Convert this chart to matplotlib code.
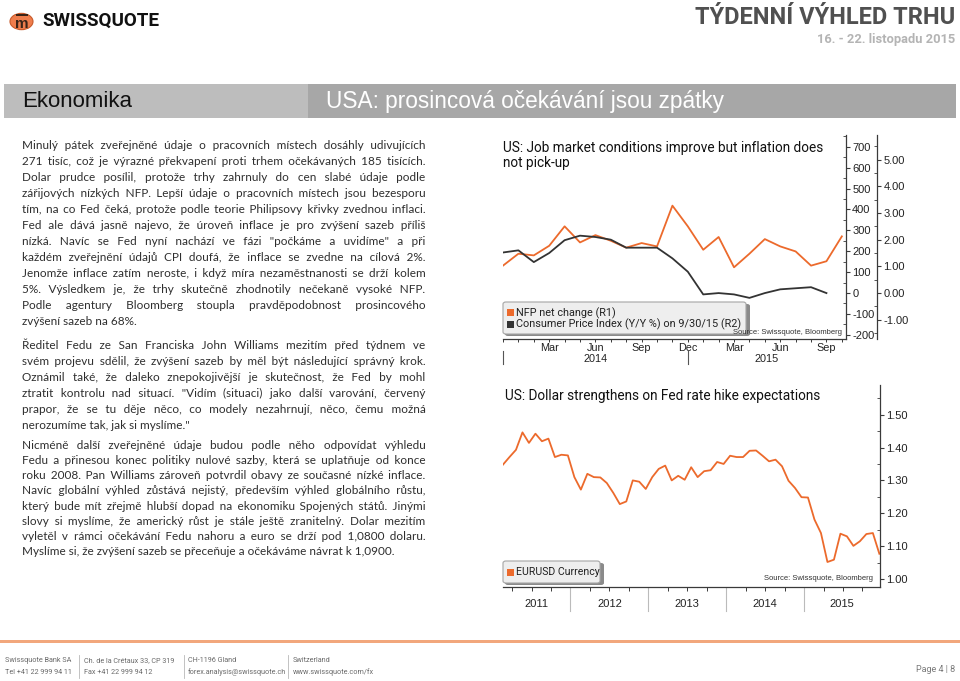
import numpy as np
import matplotlib
matplotlib.use("Agg")
import matplotlib.pyplot as plt
from matplotlib.patches import Circle, Rectangle, FancyBboxPatch
from matplotlib.lines import Line2D
import matplotlib.transforms as mtrans
from matplotlib.ticker import MultipleLocator, FixedLocator

W, H = 960, 681

# ---------------- data ----------------
nfp = [131, 188, 180, 226, 319, 242, 277, 250, 217, 239, 223, 418,
       319, 207, 268, 123, 188, 258, 223, 199, 131, 152, 271]
cpi = [1.52, 1.60, 1.16, 1.50, 1.98, 2.15, 2.10, 2.00, 1.70, 1.70, 1.70,
       1.30, 0.80, -0.05, 0.00, -0.05, -0.18, 0.00, 0.14, 0.18, 0.22, 0.00]
month_ticks = [3, 6, 9, 12, 15, 18, 21]
month_labels = ["Mar", "Jun", "Sep", "Dec", "Mar", "Jun", "Sep"]
years1 = ["2014", "2015"]
r1_ticks = [-200, -100, 0, 100, 200, 300, 400, 500, 600, 700]
r2_ticks = [-1, 0, 1, 2, 3, 4, 5]

eurusd = [1.348, 1.371, 1.393, 1.446, 1.414, 1.442, 1.419, 1.427, 1.371, 1.378,
          1.376, 1.310, 1.272, 1.320, 1.310, 1.309, 1.292, 1.262, 1.228, 1.236,
          1.300, 1.296, 1.274, 1.310, 1.335, 1.345, 1.300, 1.314, 1.302, 1.340,
          1.310, 1.328, 1.331, 1.356, 1.350, 1.375, 1.371, 1.371, 1.390, 1.391,
          1.375, 1.358, 1.363, 1.343, 1.299, 1.277, 1.249, 1.248, 1.181, 1.140,
          1.052, 1.059, 1.138, 1.130, 1.101, 1.115, 1.137, 1.140, 1.077]
eur_start = 1.6   # months since 1 Jan 2011 of first observation
years2 = ["2011", "2012", "2013", "2014", "2015"]
eur_ticks = [1.0, 1.1, 1.2, 1.3, 1.4, 1.5]

para1 = [
    "Minulý pátek zveřejněné údaje o pracovních místech dosáhly udivujících",
    "271 tisíc, což je výrazné překvapení proti trhem očekávaných 185 tisících.",
    "Dolar prudce posílil, protože trhy zahrnuly do cen slabé údaje  podle",
    "zářijových nízkých NFP. Lepší údaje o pracovních místech jsou bezesporu",
    "tím, na co Fed čeká, protože podle teorie Philipsovy křivky zvednou inflaci.",
    "Fed ale dává jasně najevo, že úroveň inflace je pro zvýšení sazeb příliš",
    "nízká. Navíc se Fed nyní nachází ve fázi \"počkáme a uvidíme\" a při",
    "každém zveřejnění údajů CPI doufá, že inflace se zvedne na cílová 2%.",
    "Jenomže inflace zatím neroste, i když míra nezaměstnanosti se drží kolem",
    "5%. Výsledkem je, že trhy skutečně zhodnotily nečekaně vysoké NFP.",
    "Podle agentury Bloomberg stoupla pravděpodobnost prosincového",
    "zvýšení sazeb na 68%.",
]
para2 = [
    "Ředitel Fedu ze San Franciska John Williams mezitím před týdnem ve",
    "svém projevu sdělil, že zvýšení sazeb by měl být následující správný krok.",
    "Oznámil také, že daleko znepokojivější je skutečnost, že Fed by mohl",
    "ztratit kontrolu nad situací. \"Vidím (situaci) jako další varování, červený",
    "prapor, že se tu děje něco, co modely nezahrnují, něco, čemu možná",
    "nerozumíme tak, jak si myslíme.\"",
]
para3 = [
    "Nicméně další zveřejněné údaje budou podle něho odpovídat výhledu",
    "Fedu a přinesou konec politiky nulové sazby, která se uplatňuje od konce",
    "roku 2008. Pan Williams zároveň potvrdil obavy ze současné nízké inflace.",
    "Navíc globální výhled zůstává nejistý, především výhled globálního růstu,",
    "který bude mít zřejmě hlubší dopad na ekonomiku Spojených států. Jinými",
    "slovy si myslíme, že americký růst je stále ještě zranitelný.  Dolar mezitím",
    "vyletěl v rámci očekávání Fedu nahoru a euro se drží pod 1,0800 dolaru.",
    "Myslíme si, že zvýšení sazeb se přeceňuje a očekáváme návrat k 1,0900.",
]

# ---------------- styles ----------------
ORANGE = "#ec6a2c"
DARK = "#333333"
AXC = "#3a3a3a"
NARROW = ["Roboto", "DejaVu Sans"]
SANS = ["Liberation Sans", "DejaVu Sans"]
BODY = ["Lato", "DejaVu Sans"]

fig = plt.figure(figsize=(W / 100, H / 100), dpi=100)
fig.patch.set_facecolor("white")


def fx(x):
    return x / W


def fy(y):
    return 1 - y / H


def add_axes_px(x0, y0, x1, y1):
    return fig.add_axes([fx(x0), fy(y1), (x1 - x0) / W, (y1 - y0) / H])


# ---------------- header ----------------
fig.patches.append(Circle((fx(21.5), fy(21.5)), 11.5 / W, transform=fig.transFigure,
                          facecolor="#ef7d4c", edgecolor="#c85a2a", lw=0.8))
fig.patches.append(Rectangle((fx(15.5), fy(15.8)), 12 / W, 1.6 / H, transform=fig.transFigure,
                             facecolor="#3b2417", edgecolor="none", zorder=3))
fig.text(fx(21.5), fy(23.5), "m", fontsize=11, fontweight="bold", color="#3b2417",
         ha="center", va="center", family=SANS)
fig.text(fx(42), fy(21), "SWISSQUOTE", fontsize=13.6, fontweight="bold", color="#111111",
         ha="left", va="center", family=NARROW)
fig.text(fx(955), fy(17), "TÝDENNÍ VÝHLED TRHU", fontsize=17, fontweight="bold",
         color="#505050", ha="right", va="center", family=NARROW)
fig.text(fx(955), fy(39), "16. - 22. listopadu 2015", fontsize=9.3, fontweight="bold",
         color="#b4b4b4", ha="right", va="center", family=NARROW)

fig.patches.append(Rectangle((fx(4), fy(118)), (308 - 4) / W, 34 / H, transform=fig.transFigure,
                             facecolor="#bdbdbd", edgecolor="none"))
fig.patches.append(Rectangle((fx(308), fy(118)), (956 - 308) / W, 34 / H, transform=fig.transFigure,
                             facecolor="#a7a7a7", edgecolor="none"))
fig.text(fx(22), fy(101.5), "Ekonomika", fontsize=16, color="#111111",
         ha="left", va="center", family=SANS)
fig.text(fx(326), fy(101.5), "USA: prosincová očekávání jsou zpátky", fontsize=16.3,
         color="white", ha="left", va="center", family=SANS)

# ---------------- body text (justified, one text per line) ----------------
renderer = fig.canvas.get_renderer()
BODY_KW = dict(fontsize=8.5, color="#2e2e2e", family=BODY, va="baseline", ha="left")
X0, X1 = 22.5, 426
BASE_OFF = 3.8
HAIR = "\u200a"


def text_width(s):
    t = fig.text(0, 0, s, **BODY_KW)
    w = t.get_window_extent(renderer).width
    t.remove()
    return w


hair_w = text_width("a" + HAIR * 10 + "a") - text_width("aa")
hair_w = hair_w / 10.0


def justify(line):
    words = line.split()
    if len(words) < 2 or hair_w <= 0.05:
        return " ".join(words)
    base = " ".join(words)
    extra = (X1 - X0) - text_width(base)
    n = len(words) - 1
    out = words[0]
    prev = 0
    for k in range(1, n + 1):
        cum = int(round(max(extra, 0) * k / n / hair_w))
        cnt = cum - prev
        prev = cum
        out += " " + HAIR * cnt + words[k]
    return out


def draw_para(lines, y0, dy):
    for i, line in enumerate(lines):
        y = y0 + i * dy + BASE_OFF
        last = (i == len(lines) - 1)
        s = " ".join(line.split()) if last else justify(line)
        fig.text(fx(X0), fy(y), s, **BODY_KW)


draw_para(para1, 145, 16.05)
draw_para(para2, 345, 16.0)
draw_para(para3, 445, 15.2)

# ---------------- chart 1 ----------------
fig.text(fx(503), fy(148), "US: Job market conditions improve but inflation does",
         fontsize=9.8, color="#111111", family=NARROW, va="center", ha="left")
fig.text(fx(503), fy(163.5), "not pick-up", fontsize=9.8, color="#111111",
         family=NARROW, va="center", ha="left")

ax1 = add_axes_px(503, 135, 846, 339)
ax2 = ax1.twinx()
ax1.set_facecolor("none")
ax2.set_facecolor("none")
x1 = np.arange(len(nfp))
ax1.plot(x1, nfp, color=ORANGE, lw=1.3, zorder=3)
ax1.set_xlim(0, 22.27)
ax1.set_ylim(-220, 756)
for s in ["left", "top"]:
    ax1.spines[s].set_visible(False)
for s in ["right", "bottom"]:
    ax1.spines[s].set_color(AXC)
    ax1.spines[s].set_linewidth(0.9)
ax1.yaxis.tick_right()
ax1.set_yticks(r1_ticks)
ax1.set_yticklabels([str(v) for v in r1_ticks])
ax1.yaxis.set_minor_locator(MultipleLocator(50))
ax1.tick_params(axis="y", which="major", direction="out", length=3, width=0.8,
                colors=AXC, labelsize=8, pad=1.5, left=False, labelleft=False,
                right=True, labelright=True)
ax1.tick_params(axis="y", which="minor", direction="in", length=2, width=0.6, colors=AXC,
                left=False, right=True)
for lab in ax1.get_yticklabels():
    lab.set_family(SANS)
    lab.set_color("#222222")
ax1.set_xticks(month_ticks)
ax1.set_xticklabels(month_labels)
ax1.xaxis.set_minor_locator(MultipleLocator(1))
ax1.tick_params(axis="x", which="both", direction="out", length=2.5, width=0.7,
                colors=AXC, labelsize=7.8, pad=0.5)
for lab in ax1.get_xticklabels():
    lab.set_family(SANS)
    lab.set_color("#222222")

x2 = np.arange(len(cpi))
ax2.plot(x2, cpi, color=DARK, lw=1.3, zorder=3)
ax2.set_ylim(-1.72, 5.92)
for s in ["left", "top", "bottom"]:
    ax2.spines[s].set_visible(False)
ax2.spines["right"].set_position(("axes", (877 - 503) / (846 - 503)))
ax2.spines["right"].set_color(AXC)
ax2.spines["right"].set_linewidth(0.9)
ax2.set_yticks(r2_ticks)
ax2.set_yticklabels(["%.2f" % v for v in r2_ticks])
ax2.yaxis.set_minor_locator(MultipleLocator(0.5))
ax2.tick_params(axis="y", which="major", direction="out", length=3, width=0.8,
                colors=AXC, labelsize=8, pad=1.5)
ax2.tick_params(axis="y", which="minor", direction="in", length=2, width=0.6, colors=AXC)
for lab in ax2.get_yticklabels():
    lab.set_family(SANS)
    lab.set_color("#222222")

# year labels and separators chart 1
trans1 = mtrans.blended_transform_factory(ax1.transData, fig.transFigure)
year_bounds1 = [0, 12, 22.27]
for i, yr in enumerate(years1):
    xc = (year_bounds1[i] + year_bounds1[i + 1]) / 2
    ax1.text(xc, fy(359), yr, transform=trans1, ha="center", va="center",
             fontsize=7.8, color="#222222", family=SANS, clip_on=False)
for xb in year_bounds1[:-1]:
    ax1.add_line(Line2D([xb, xb], [fy(351), fy(364)], transform=trans1,
                        color="#555555", lw=0.8, clip_on=False))

# legend 1
fig.patches.append(FancyBboxPatch((fx(505), fy(336)), (748 - 503) / W, (334 - 302) / H,
                                  boxstyle="round,pad=0,rounding_size=0.003",
                                  transform=fig.transFigure, facecolor="#8a8a8a",
                                  edgecolor="none", zorder=5))
fig.patches.append(FancyBboxPatch((fx(503), fy(334)), (746 - 503) / W, (334 - 302) / H,
                                  boxstyle="round,pad=0,rounding_size=0.003",
                                  transform=fig.transFigure, facecolor="#eeeeee",
                                  edgecolor="#a5a5a5", lw=0.8, zorder=6))
for yy, col, txt in [(313, ORANGE, "NFP net change (R1)"),
                     (324, DARK, "Consumer Price Index (Y/Y %) on 9/30/15 (R2)")]:
    fig.patches.append(Rectangle((fx(507), fy(yy + 3.5)), 7 / W, 7 / H, transform=fig.transFigure,
                                 facecolor=col, edgecolor="none", zorder=7))
    fig.text(fx(515.5), fy(yy), txt, fontsize=7.8, color="#222222", family=NARROW,
             va="center", ha="left", zorder=8)
fig.text(fx(842), fy(332), "Source: Swissquote, Bloomberg", fontsize=5.5, color="#333333",
         family=SANS, va="center", ha="right", zorder=8)

# ---------------- chart 2 ----------------
fig.text(fx(505), fy(396), "US: Dollar strengthens on Fed rate hike expectations",
         fontsize=9.8, color="#111111", family=NARROW, va="center", ha="left")
ax3 = add_axes_px(503, 385, 880, 587)
ax3.set_facecolor("none")
x3 = eur_start + np.arange(len(eurusd))
ax3.plot(x3, eurusd, color=ORANGE, lw=1.3)
xr = 59.7
ax3.set_xlim(eur_start, xr)
ax3.set_ylim(0.976, 1.590)
for s in ["left", "top"]:
    ax3.spines[s].set_visible(False)
for s in ["right", "bottom"]:
    ax3.spines[s].set_color(AXC)
    ax3.spines[s].set_linewidth(0.9)
ax3.yaxis.tick_right()
ax3.set_yticks(eur_ticks)
ax3.set_yticklabels(["%.2f" % v for v in eur_ticks])
ax3.yaxis.set_minor_locator(MultipleLocator(0.05))
ax3.tick_params(axis="y", which="major", direction="out", length=3, width=0.8,
                colors=AXC, labelsize=8, pad=1.5)
ax3.tick_params(axis="y", which="minor", direction="in", length=2, width=0.6, colors=AXC)
for lab in ax3.get_yticklabels():
    lab.set_family(SANS)
    lab.set_color("#222222")
ax3.xaxis.set_major_locator(FixedLocator(np.arange(3, xr, 3)))
ax3.set_xticklabels([])
ax3.tick_params(axis="x", which="both", direction="out", length=3, width=0.7, colors=AXC)

trans3 = mtrans.blended_transform_factory(ax3.transData, fig.transFigure)
year_bounds2 = [eur_start, 12, 24, 36, 48, xr]
for i, yr in enumerate(years2):
    xc = (year_bounds2[i] + year_bounds2[i + 1]) / 2
    ax3.text(xc, fy(604), yr, transform=trans3, ha="center", va="center",
             fontsize=8, color="#222222", family=SANS, clip_on=False)
for xb in year_bounds2[1:-1]:
    ax3.add_line(Line2D([xb, xb], [fy(588), fy(611)], transform=trans3,
                        color="#bbbbbb", lw=0.8, clip_on=False))

fig.patches.append(FancyBboxPatch((fx(505), fy(585)), (602 - 503) / W, (583 - 561) / H,
                                  boxstyle="round,pad=0,rounding_size=0.003",
                                  transform=fig.transFigure, facecolor="#8a8a8a",
                                  edgecolor="none", zorder=5))
fig.patches.append(FancyBboxPatch((fx(503), fy(583)), (600 - 503) / W, (583 - 561) / H,
                                  boxstyle="round,pad=0,rounding_size=0.003",
                                  transform=fig.transFigure, facecolor="#eeeeee",
                                  edgecolor="#a5a5a5", lw=0.8, zorder=6))
fig.patches.append(Rectangle((fx(507), fy(575.5)), 7 / W, 7 / H, transform=fig.transFigure,
                             facecolor=ORANGE, edgecolor="none", zorder=7))
fig.text(fx(516), fy(572), "EURUSD Currency", fontsize=7.6, color="#222222", family=NARROW,
         va="center", ha="left", zorder=8)
fig.text(fx(873), fy(579), "Source: Swissquote, Bloomberg", fontsize=5.5, color="#333333",
         family=SANS, va="center", ha="right", zorder=8)

# ---------------- footer ----------------
fig.patches.append(Rectangle((0, fy(642.5)), 1, 3 / H, transform=fig.transFigure,
                             facecolor="#f2a77c", edgecolor="none"))
FOOT = dict(fontsize=5.2, color="#6a6a6a", family=NARROW, va="center", ha="left")
cols = [(5, "Swissquote Bank SA", "Tel +41 22 999 94 11"),
        (84, "Ch. de la Crétaux 33, CP 319", "Fax +41 22 999 94 12"),
        (188, "CH-1196 Gland", "forex.analysis@swissquote.ch"),
        (293, "Switzerland", "www.swissquote.com/fx")]
for xc, a, b in cols:
    fig.text(fx(xc), fy(661), a, **FOOT)
    fig.text(fx(xc), fy(672), b, **FOOT)
for xs in [79, 184, 288]:
    fig.lines.append(Line2D([fx(xs), fx(xs)], [fy(655), fy(678)], transform=fig.transFigure,
                            color="#b8b8b8", lw=0.6))
fig.text(fx(955), fy(670), "Page 4 | 8", fontsize=6.5, color="#7a7a7a", family=NARROW,
         va="center", ha="right")

fig.savefig("out.png", dpi=100, facecolor="white")
